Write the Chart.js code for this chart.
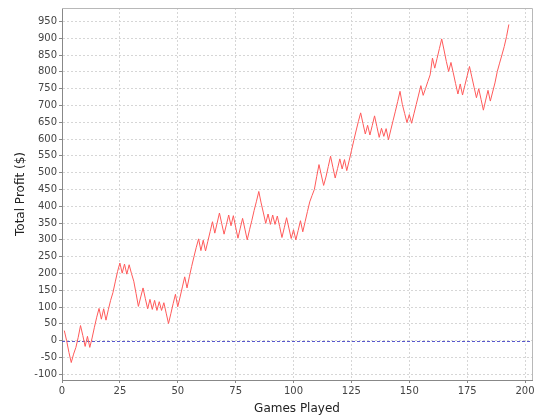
<!DOCTYPE html>
<html>
<head>
<meta charset="utf-8">
<script src="https://cdn.jsdelivr.net/npm/chart.js@4"></script>
<style>
  html, body { margin: 0; padding: 0; background: #fff; }
  canvas { display: block; }
</style>
</head>
<body>
<canvas id="profitChart" width="540" height="420"></canvas>
<script>
// profit after each game, game 1 .. 193
const profit = [
   30,    0,  -35,  -65,  -40,  -20,   10,   45,   15,  -17,
   13,  -20,    8,   40,   70,   96,   64,   95,   61,   92,
  120,  143,  175,  206,  231,  201,  228,  198,  226,  200,
  177,  140,  102,  130,  157,  125,   95,  123,   93,  120,
   90,  116,   90,  113,   82,   51,   80,  110,  138,  101,
  130,  160,  190,  157,  190,  221,  250,  278,  303,  268,
  299,  267,  296,  325,  354,  320,  350,  380,  348,  317,
  345,  374,  342,  372,  338,  305,  335,  364,  332,  300,
  330,  358,  388,  415,  444,  410,  380,  349,  377,  346,
  374,  346,  371,  340,  307,  336,  366,  335,  304,  330,
  300,  328,  357,  324,  354,  384,  413,  432,  450,  488,
  524,  493,  462,  487,  518,  549,  516,  484,  512,  541,
  511,  539,  506,  535,  565,  595,  624,  652,  678,  646,
  615,  641,  612,  640,  669,  637,  605,  632,  608,  631,
  598,  627,  655,  683,  712,  742,  703,  676,  649,  673,
  647,  675,  703,  731,  759,  730,  750,  771,  791,  841,
  811,  840,  869,  898,  865,  831,  801,  828,  797,  765,
  734,  764,  731,  760,  788,  816,  785,  754,  723,  750,
  718,  686,  716,  745,  713,  740,  767,  801,  826,  850,
  875,  905,  941
];
const firstGame = 1;
const xTicks = [0, 25, 50, 75, 100, 125, 150, 175, 200];
const yTicks = [-100, -50, 0, 50, 100, 150, 200, 250, 300, 350, 400, 450,
                500, 550, 600, 650, 700, 750, 800, 850, 900, 950];

document.addEventListener("DOMContentLoaded", function () {
    const ctx = document.getElementById('profitChart').getContext('2d');

    const points = profit.map((v, i) => ({ x: firstGame + i, y: v }));

    // frame + zero marker
    const plotExtras = {
        id: 'plotExtras',
        beforeDatasetsDraw(chart) {
            const c = chart.ctx, a = chart.chartArea;
            const y0 = chart.scales.y.getPixelForValue(0);
            c.save();
            c.strokeStyle = 'rgba(70,70,200,0.9)';
            c.lineWidth = 1;
            c.setLineDash([3, 2]);
            c.beginPath();
            c.moveTo(a.left, Math.round(y0) + 0.5);
            c.lineTo(a.right, Math.round(y0) + 0.5);
            c.stroke();
            c.restore();
        },
        afterDraw(chart) {
            const c = chart.ctx, a = chart.chartArea;
            c.save();
            c.strokeStyle = '#b8b8b8';
            c.lineWidth = 1;
            c.beginPath();
            c.moveTo(a.left, Math.round(a.top) + 0.5);
            c.lineTo(Math.round(a.right) + 0.5, Math.round(a.top) + 0.5);
            c.lineTo(Math.round(a.right) + 0.5, a.bottom);
            c.stroke();
            c.restore();
        }
    };

    const gridStyle = {
        color: '#d6d6d6',
        tickColor: '#888',
        tickBorderDash: [],
        tickLength: 3
    };

    new Chart(ctx, {
        type: 'line',
        data: {
            datasets: [{
                label: 'Total Profit',
                data: points,
                borderColor: '#ff5a5a',
                borderWidth: 1,
                pointRadius: 0,
                tension: 0,
                fill: false
            }]
        },
        options: {
            responsive: false,
            animation: false,
            layout: { padding: { top: 4, right: 8, left: 0, bottom: 0 } },
            plugins: {
                legend: { display: false },
                tooltip: { enabled: false }
            },
            scales: {
                x: {
                    type: 'linear',
                    min: 0,
                    max: 203,
                    afterBuildTicks: s => { s.ticks = xTicks.map(v => ({ value: v })); },
                    afterFit: s => { s.height = 40; },
                    grid: gridStyle,
                    border: { color: '#888', width: 1, dash: [2, 2] },
                    ticks: {
                        color: '#444',
                        padding: 2,
                        maxRotation: 0,
                        font: { family: 'DejaVu Sans', size: 10 }
                    },
                    title: {
                        display: true,
                        text: 'Games Played',
                        color: '#222',
                        padding: { top: 2, bottom: 4 },
                        font: { family: 'DejaVu Sans', size: 12 }
                    }
                },
                y: {
                    min: -117,
                    max: 990,
                    afterBuildTicks: s => { s.ticks = yTicks.map(v => ({ value: v })); },
                    afterFit: s => { s.width = 62; },
                    grid: gridStyle,
                    border: { color: '#888', width: 1, dash: [2, 2] },
                    ticks: {
                        color: '#444',
                        padding: 2,
                        font: { family: 'DejaVu Sans', size: 10 }
                    },
                    title: {
                        display: true,
                        text: 'Total Profit ($)',
                        color: '#222',
                        padding: { top: 14, bottom: 4 },
                        font: { family: 'DejaVu Sans', size: 12 }
                    }
                }
            }
        },
        plugins: [plotExtras]
    });
});
</script>
</body>
</html>
